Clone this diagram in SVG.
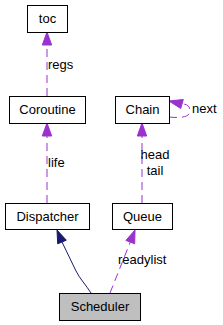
<svg xmlns="http://www.w3.org/2000/svg" width="223" height="325" viewBox="0 0 223 325">
<style>
.box{fill:#ffffff;stroke:#000000;stroke-width:1}
.cur{fill:#bfbfbf;stroke:#000000;stroke-width:1}
text{font-family:"Liberation Sans",Arial,Helvetica,sans-serif;font-size:13px;fill:#000000}
.n{text-anchor:middle}
.dash{fill:none;stroke:#9a32cd;stroke-width:1;stroke-dasharray:8,5}
.solid{fill:none;stroke:#191970;stroke-width:1}
.ah{fill:#9a32cd;stroke:#9a32cd}
.nh{fill:#191970;stroke:#191970}
</style>
<rect width="223" height="325" fill="#ffffff"/>
<g id="edges">
  <line class="dash" x1="47" y1="96" x2="47" y2="45"/>
  <polygon class="ah" points="47,32 42.3,45 51.7,45"/>
  <text x="48" y="69">regs</text>
  <line class="dash" x1="47" y1="203" x2="47" y2="136"/>
  <polygon class="ah" points="47,123 42.3,136 51.7,136"/>
  <text x="48" y="167">life</text>
  <line class="dash" x1="142" y1="203" x2="142" y2="136"/>
  <polygon class="ah" points="142,123 137.3,136 146.7,136"/>
  <text class="n" x="155" y="159">head</text>
  <text class="n" x="155" y="175">tail</text>
  <path class="dash" d="M169,117 C178,118 190,118 190,111 C190,106 187,104 182,104"/>
  <polygon class="ah" points="169,101 183.3,99.5 180.7,108.5"/>
  <text x="192" y="113">next</text>
  <path class="solid" d="M91,293 C86,285 80,279 76,271 L62,242"/>
  <polygon class="nh" points="57,230 66.3,240.2 57.7,243.8"/>
  <line class="dash" x1="110" y1="293" x2="130.3" y2="242"/>
  <polygon class="ah" points="135,230 134.7,243.8 125.9,240.4"/>
  <text x="118" y="264">readylist</text>
</g>
<g id="toc">
  <rect class="box" x="27.5" y="5.5" width="40" height="27"/>
  <text class="n" x="47.5" y="23">toc</text>
</g>
<g id="Coroutine">
  <rect class="box" x="9.5" y="96.5" width="76" height="27"/>
  <text class="n" x="47.5" y="114">Coroutine</text>
</g>
<g id="Chain">
  <rect class="box" x="115.5" y="96.5" width="54" height="27"/>
  <text class="n" x="142.5" y="114">Chain</text>
</g>
<g id="Dispatcher">
  <rect class="box" x="5.5" y="203.5" width="84" height="26"/>
  <text class="n" x="47.5" y="221">Dispatcher</text>
</g>
<g id="Queue">
  <rect class="box" x="112.5" y="203.5" width="60" height="26"/>
  <text class="n" x="142.5" y="221">Queue</text>
</g>
<g id="Scheduler">
  <rect class="cur" x="59.5" y="293.5" width="81" height="27"/>
  <text class="n" x="100" y="311">Scheduler</text>
</g>
</svg>
